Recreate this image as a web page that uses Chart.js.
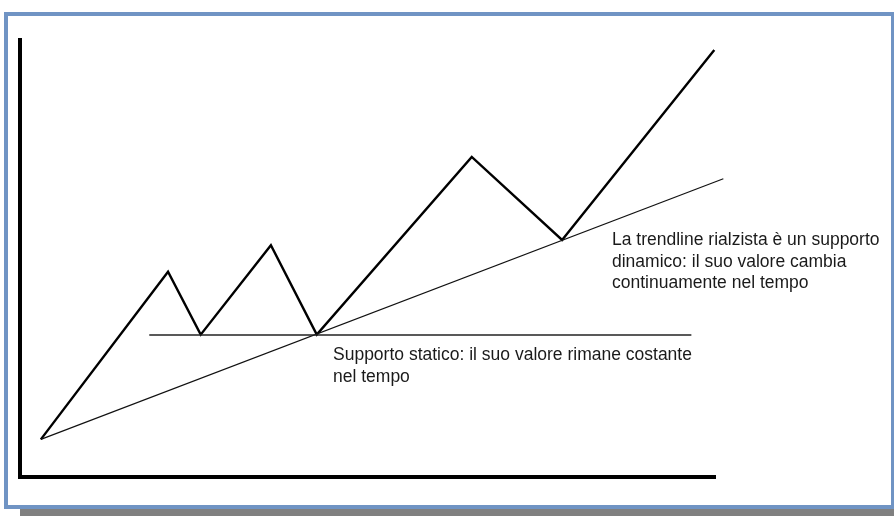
<!DOCTYPE html>
<html>
<head>
<meta charset="utf-8">
<script src="https://cdn.jsdelivr.net/npm/chart.js@4"></script>
<style>
  html, body { margin: 0; padding: 0; background: #fff; width: 894px; height: 516px; overflow: hidden; }
  .frame { position: absolute; left: 4px; top: 12px; width: 883px; height: 489px; border: 4px solid #7094c4; background: #fff; box-shadow: 16px 7px 0 #808080; }
  .wrap { position: absolute; left: 0; top: 0; width: 894px; height: 516px; }
  .note { position: absolute; font-family: "Liberation Sans", Arial, sans-serif; font-size: 17.5px; line-height: 21.5px; color: #1a1a1a; white-space: nowrap; }
</style>
</head>
<body>
<div class="frame"></div>
<div class="wrap"><canvas id="chart"></canvas></div>
<div class="note" style="left:612px; top:229px;">La trendline rialzista è un supporto<br>dinamico: il suo valore cambia<br>continuamente nel tempo</div>
<div class="note" style="left:333px; top:344px;">Supporto statico: il suo valore rimane costante<br>nel tempo</div>
<script>
// price path (time, price)
const zigzagX = [3.0, 21.3, 26.0, 36.1, 42.7, 65.0, 78.0, 99.9];
const zigzagY = [8.5, 46.9, 32.5, 53.0, 32.5, 73.2, 54.2, 97.7];
// rising trendline
const trendX = [3.0, 101.2];
const trendY = [8.5, 68.2];
// static support level
const supportX = [18.6, 96.6];
const supportY = [32.4, 32.4];

const pts = (xs, ys) => xs.map((x, i) => ({ x, y: ys[i] }));

new Chart(document.getElementById('chart'), {
  type: 'scatter',
  data: {
    datasets: [
      { data: pts(supportX, supportY), showLine: true, borderColor: '#222', borderWidth: 1.6, pointRadius: 0, clip: false },
      { data: pts(trendX, trendY), showLine: true, borderColor: '#111', borderWidth: 1.2, pointRadius: 0, clip: false },
      { data: pts(zigzagX, zigzagY), showLine: true, borderColor: '#000', borderWidth: 2.4, pointRadius: 0, clip: false, borderJoinStyle: 'miter' },
    ]
  },
  options: {
    responsive: true, maintainAspectRatio: false, animation: false,
    layout: { padding: { left: 20, top: 40, right: 179, bottom: 39.5 } },
    plugins: { legend: { display: false }, tooltip: { enabled: false } },
    scales: {
      x: { min: 0, max: 100, ticks: { display: false }, grid: { display: false, drawTicks: false },
           border: { display: true, color: '#000', width: 4 } },
      y: { min: 0, max: 100, ticks: { display: false }, grid: { display: false, drawTicks: false },
           border: { display: true, color: '#000', width: 4 } },
    },
  },
});
</script>
</body>
</html>
